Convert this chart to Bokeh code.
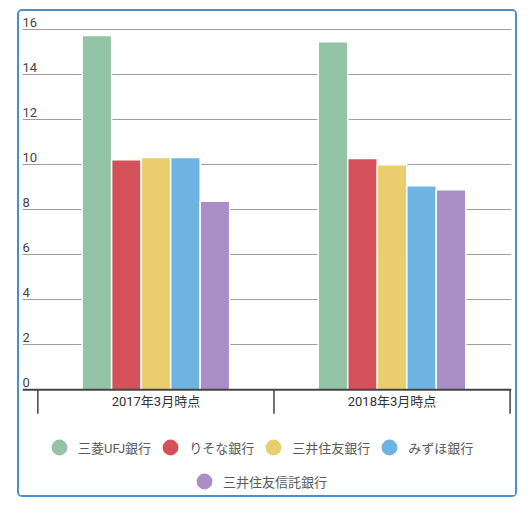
from bokeh.core.properties import value
from bokeh.embed import file_html
from bokeh.models import (ColumnDataSource, FixedTicker, Grid, Legend,
                          LegendItem, Range1d, Span)
from bokeh.plotting import figure
from bokeh.resources import INLINE
from bokeh.transform import dodge

# data
periods = ["2017年3月時点", "2018年3月時点"]
banks = ["三菱UFJ銀行", "りそな銀行", "三井住友銀行", "みずほ銀行", "三井住友信託銀行"]
mufg = [15.75, 15.47]
resona = [10.22, 10.28]
smbc = [10.32, 10.00]
mizuho = [10.32, 9.07]
smtb = [8.38, 8.89]
y_ticks = [0, 2, 4, 6, 8, 10, 12, 14, 16]

series = [mufg, resona, smbc, mizuho, smtb]
colors = ["#93c4a6", "#d55159", "#eacd6c", "#6eb4e2", "#aa8ec6"]
FONT = "Roboto, 'Noto Sans CJK JP'"

# 22.5 px per unit on y, 236.2 px per period on x
x_start, x_end = -0.065, 2.006
y_start, y_end = -4.787, 16.68
p = figure(width=500, height=488, x_range=Range1d(x_start, x_end),
           y_range=Range1d(y_start, y_end), x_axis_location=None,
           y_axis_location=None, toolbar_location=None,
           output_backend="svg", min_border_left=3, min_border_right=8,
           min_border_top=3, min_border_bottom=2)
p.outline_line_color = None
p.styles = {"border": "2px solid #4a90c8", "border-radius": "5px",
            "position": "relative", "left": "17px", "top": "9px"}
for g in p.grid:
    g.visible = False

grid = Grid(dimension=1, ticker=FixedTicker(ticks=y_ticks[1:]),
            grid_line_color="#9e9e9e", grid_line_width=1)
p.add_layout(grid)

# bars, dodged round the middle of each period
mids = [i + 0.5 for i in range(len(periods))]
step = 0.125
for j, (vals, col) in enumerate(zip(series, colors)):
    src = ColumnDataSource(dict(x=mids, top=vals))
    p.vbar(x=dodge("x", (j - 2) * step), top="top", width=step, bottom=0,
           source=src, fill_color=col, line_color="white", line_width=1.5)

# y tick labels sit above the grid lines, inside the plot
p.text(x=[x_start] * len(y_ticks), y=y_ticks, text=[str(t) for t in y_ticks],
       text_font=value(FONT), text_font_size="13px", text_color="#444444",
       text_baseline="bottom", text_align="left", y_offset=-3)

# baseline, ticks at the period edges and the period names
p.add_layout(Span(location=0, dimension="width", line_color="#444444",
                  line_width=2))
edges = list(range(len(periods) + 1))
tick_len = 24 / 22.5
p.segment(x0=edges, x1=edges, y0=[0] * len(edges),
          y1=[-tick_len] * len(edges), line_color="#444444", line_width=1.5)
p.text(x=mids, y=[0] * len(mids), text=periods, text_font=value(FONT),
       text_font_size="13px", text_color="#333333", text_align="center",
       text_baseline="middle", y_offset=12)

items = []
for name, vals, col in zip(banks, series, colors):
    src = ColumnDataSource(dict(x=mids, y=vals))
    r = p.scatter(x="x", y="y", source=src, marker="circle", fill_color=col,
                  line_color=col, line_width=3, visible=False)
    items.append(LegendItem(label=name, renderers=[r]))

# two legend rows under the axis
for chunk, loc in ((items[:4], (18, 34)), (items[4:], (163, 0))):
    leg = Legend(items=chunk, orientation="horizontal", location=loc,
                 glyph_width=38, glyph_height=32, label_standoff=0,
                 spacing=0, padding=0, margin=0,
                 border_line_color=None, background_fill_alpha=0,
                 label_text_font=FONT, label_text_font_size="13px",
                 label_text_color="#5a5a5a")
    p.add_layout(leg)

open("out.html", "w").write(file_html(p, INLINE))
